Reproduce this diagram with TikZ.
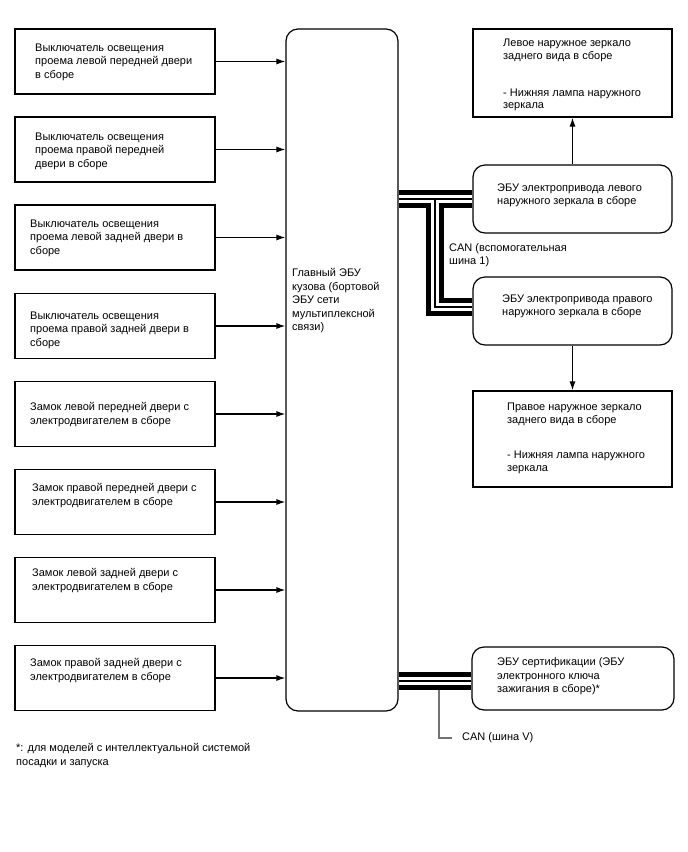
\documentclass[tikz,border=0pt]{standalone}
\usepackage{fontspec}
\setmainfont{Liberation Sans}
\usetikzlibrary{arrows.meta}

\tikzset{
  blockbox/.style={draw, line width=1.2pt, minimum width=200pt, inner sep=0pt},
  ecubox/.style={blockbox, rounded corners=12pt},
  boxtext/.style={anchor=north west, align=left, inner sep=0pt},
  canbus/.style={line width=5pt, double=white, double distance=7.5pt},
  canwire/.style={line width=1.5pt},
  sig/.style={line width=1.2pt, -{Latex[length=9pt,width=6pt]}}
}

\begin{document}
\begin{tikzpicture}[x=1pt, y=-1pt, every node/.style={font=\fontsize{11}{13.5}\selectfont}]
  \useasboundingbox (0,0) rectangle (688,852);

  % main body ECU
  \node[ecubox, minimum width=112pt, minimum height=682pt] (main) at (342,370) {};
  \node[boxtext] (maintxt) at (292,268.5) {Главный ЭБУ\\кузова (бортовой\\ЭБУ сети\\мультиплексной\\связи)};

  % door switches and door locks
  \node[blockbox, minimum height=65pt] (sw1) at (115,61.5) {};
  \node[blockbox, minimum height=65pt] (sw2) at (115,149.5) {};
  \node[blockbox, minimum height=65pt] (sw3) at (115,237.5) {};
  \node[blockbox, minimum height=65pt] (sw4) at (115,326) {};
  \node[blockbox, minimum height=65pt] (lk1) at (115,414) {};
  \node[blockbox, minimum height=65pt] (lk2) at (115,502) {};
  \node[blockbox, minimum height=65pt] (lk3) at (115,590) {};
  \node[blockbox, minimum height=65pt] (lk4) at (115,678) {};

  \node[boxtext] (sw1txt) at (35,43.5) {Выключатель освещения\\проема левой передней двери\\в сборе};
  \node[boxtext] (sw2txt) at (35,132.5) {Выключатель освещения\\проема правой передней\\двери в сборе};
  \node[boxtext] (sw3txt) at (30,219.5) {Выключатель освещения\\проема левой задней двери в\\сборе};
  \node[boxtext] (sw4txt) at (30,311.5) {Выключатель освещения\\проема правой задней двери в\\сборе};
  \node[boxtext] (lk1txt) at (30,402.5) {Замок левой передней двери с\\электродвигателем в сборе};
  \node[boxtext] (lk2txt) at (32,483.5) {Замок правой передней двери с\\электродвигателем в сборе};
  \node[boxtext] (lk3txt) at (32,568.5) {Замок левой задней двери с\\электродвигателем в сборе};
  \node[boxtext] (lk4txt) at (30,658.5) {Замок правой задней двери с\\электродвигателем в сборе};

  \draw[sig] (sw1.east) -- (sw1.east -| main.west);
  \draw[sig] (sw2.east) -- (sw2.east -| main.west);
  \draw[sig] (sw3.east) -- (sw3.east -| main.west);
  \draw[sig] (sw4.east) -- (sw4.east -| main.west);
  \draw[sig] (lk1.east) -- (lk1.east -| main.west);
  \draw[sig] (lk2.east) -- (lk2.east -| main.west);
  \draw[sig] (lk3.east) -- (lk3.east -| main.west);
  \draw[sig] (lk4.east) -- (lk4.east -| main.west);

  % mirrors and mirror ECUs
  \node[blockbox, minimum width=199pt, minimum height=88pt] (lmir) at (572.5,73) {};
  \node[ecubox, minimum width=199pt, minimum height=68pt] (lecu) at (572.5,199) {};
  \node[ecubox, minimum width=199pt, minimum height=68pt] (recu) at (572.5,311) {};
  \node[blockbox, minimum width=199pt, minimum height=96pt] (rmir) at (572.5,439) {};
  \node[ecubox, minimum width=202pt, minimum height=63pt] (cert) at (573,678.5) {};

  \node[boxtext, font=\fontsize{11}{12.4}\selectfont] (lmirtxt) at (503,39) {Левое наружное зеркало\\заднего вида в сборе\\[25pt]- Нижняя лампа наружного\\зеркала};
  \node[boxtext] (lecutxt) at (497,183.5) {ЭБУ электропривода левого\\наружного зеркала в сборе};
  \node[boxtext] (recutxt) at (502,294.5) {ЭБУ электропривода правого\\наружного зеркала в сборе};
  \node[boxtext, font=\fontsize{11}{13}\selectfont] (rmirtxt) at (507,402.5) {Правое наружное зеркало\\заднего вида в сборе\\[22pt]- Нижняя лампа наружного\\зеркала};
  \node[boxtext] (certtxt) at (497,657.5) {ЭБУ сертификации (ЭБУ\\электронного ключа\\зажигания в сборе)*};

  \draw[sig] (lecu.north) -- (lmir.south);
  \draw[sig] (recu.south) -- (rmir.north);

  % CAN sub bus 1
  \coordinate (canj) at (435,199);
  \coordinate (canb) at (435,307);
  \draw[canbus] (lecu.west -| main.east) -- (lecu.west) (canj) -- (canb) -- (canb -| recu.west);
  \draw[canwire] (lecu.west -| main.east) -- (lecu.west) (canj) -- (canb) -- (canb -| recu.west);
  \node[boxtext, font=\fontsize{11}{12.5}\selectfont] (can1) at (449,243.5) {CAN (вспомогательная\\шина 1)};

  % CAN V bus
  \coordinate (vcan) at (439,681);
  \node[boxtext, anchor=west] (canv) at (462,738) {CAN (шина V)};
  \draw[line width=1.2pt, black!55] (vcan) |- ([xshift=-10pt]canv.west);
  \draw[canbus] (vcan -| main.east) -- (vcan -| cert.west);
  \draw[canwire] (vcan -| main.east) -- (vcan -| cert.west);

  \node[boxtext] (note) at (16,743.5) {*: для моделей с интеллектуальной системой\\посадки и запуска};
\end{tikzpicture}
\end{document}
